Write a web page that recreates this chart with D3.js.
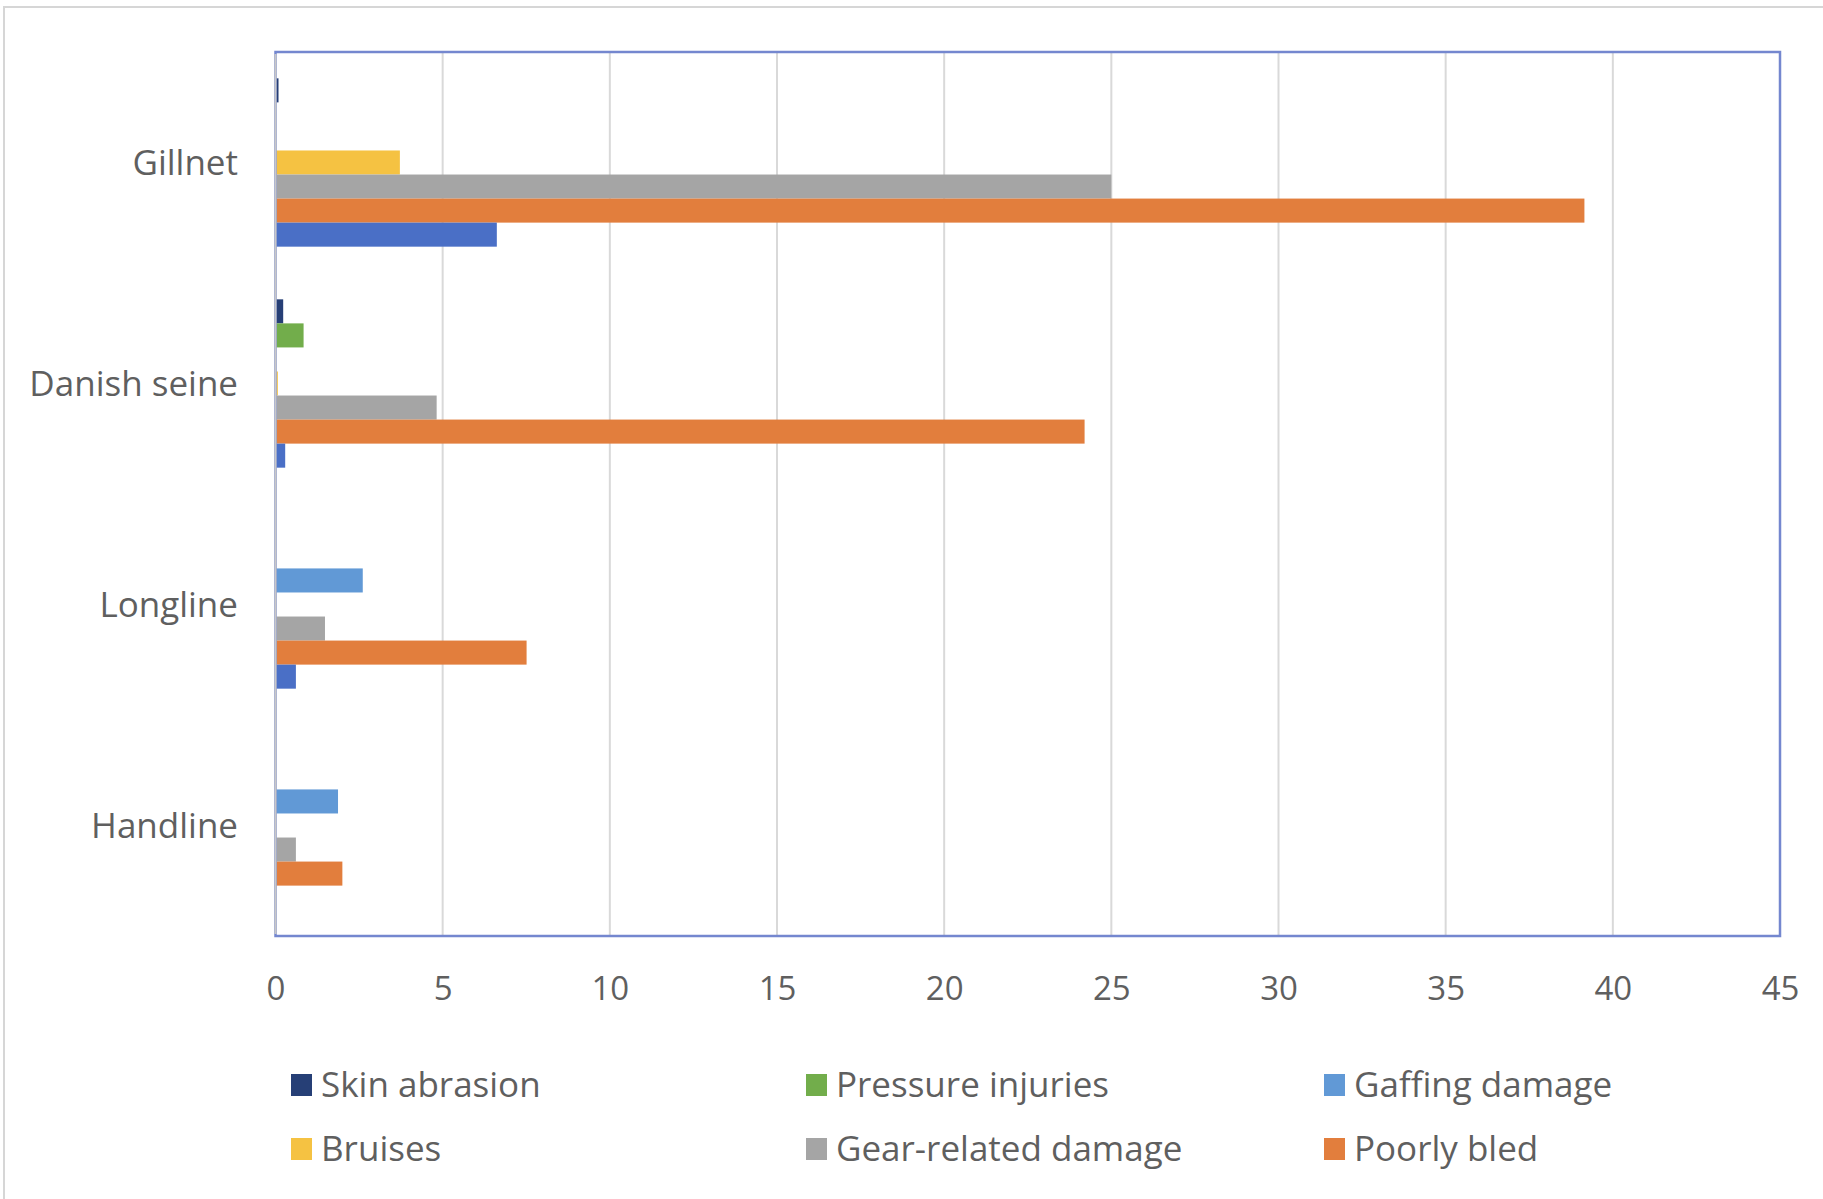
<!DOCTYPE html>
<html>
<head>
<meta charset="utf-8">
<script src="https://cdn.jsdelivr.net/npm/d3@7"></script>
<style>
  html, body { margin: 0; padding: 0; background: #fff; }
  svg { display: block; }
</style>
</head>
<body>
<svg id="chart" width="1823" height="1199"></svg>
<script>
// ---- Data ----
const categories = ["Gillnet", "Danish seine", "Longline", "Handline"];
const seriesNames = ["Skin abrasion", "Pressure injuries", "Gaffing damage", "Bruises", "Gear-related damage", "Poorly bled", "Unlabelled series"];
const skinAbrasion     = [0.09, 0.23, 0, 0];
const pressureInjuries = [0, 0.84, 0, 0];
const gaffingDamage    = [0, 0, 2.61, 1.87];
const bruises          = [3.72, 0.07, 0, 0];
const gearRelated      = [25.0, 4.82, 1.48, 0.61];
const poorlyBled       = [39.15, 24.2, 7.51, 2.0];
const unlabelled       = [6.62, 0.29, 0.61, 0];
const seriesValues = [skinAbrasion, pressureInjuries, gaffingDamage, bruises, gearRelated, poorlyBled, unlabelled];
const seriesColors = ["#263F76", "#72AD4B", "#6199D6", "#F5C242", "#A5A5A5", "#E27E3D", "#4A6FC6"];
const legendNames = ["Skin abrasion", "Pressure injuries", "Gaffing damage", "Bruises", "Gear-related damage", "Poorly bled"];
const xTicks = [0, 5, 10, 15, 20, 25, 30, 35, 40, 45];

// ---- Layout ----
const svg = d3.select("#chart");
const plot = { left: 275.5, right: 1780, top: 52, bottom: 936 };
const textColor = "#5f5f5f";
const font = "'Open Sans', 'Noto Sans', sans-serif";

// outer chart frame
svg.append("rect")
  .attr("x", 4).attr("y", 7).attr("width", 1900).attr("height", 1300)
  .attr("fill", "#fff").attr("stroke", "#d6d6d6").attr("stroke-width", 2);

const x = d3.scaleLinear().domain([0, 45]).range([plot.left, plot.right]);
const y = d3.scaleBand().domain(categories).range([plot.top, plot.bottom]).padding(0);
const bw = y.bandwidth();
const barH = bw / (7 + 2.19);
const gapHalf = barH * 1.095;
const ys = d3.scaleBand().domain(seriesNames).range([gapHalf, bw - gapHalf]).padding(0);

// gridlines
svg.append("g").selectAll("line").data(xTicks.slice(1)).join("line")
  .attr("x1", d => x(d)).attr("x2", d => x(d))
  .attr("y1", plot.top).attr("y2", plot.bottom)
  .attr("stroke", "#d9d9d9").attr("stroke-width", 2);

// bars
const rows = [];
categories.forEach((c, ci) => {
  seriesNames.forEach((s, si) => {
    rows.push({ cat: c, series: s, value: seriesValues[si][ci], color: seriesColors[si] });
  });
});
svg.append("g").selectAll("rect").data(rows.filter(d => d.value > 0)).join("rect")
  .attr("x", x(0))
  .attr("y", d => y(d.cat) + ys(d.series))
  .attr("width", d => x(d.value) - x(0))
  .attr("height", ys.bandwidth())
  .attr("fill", d => d.color);

// plot border
svg.append("rect")
  .attr("x", plot.left).attr("y", plot.top)
  .attr("width", plot.right - plot.left).attr("height", plot.bottom - plot.top)
  .attr("fill", "none").attr("stroke", "#7487CF").attr("stroke-width", 2.5);

// left category axis line
svg.append("line")
  .attr("x1", x(0)).attr("x2", x(0)).attr("y1", plot.top + 2).attr("y2", plot.bottom - 2)
  .attr("stroke", "#c8c8c8").attr("stroke-width", 2);

// x axis labels
const xAxis = d3.axisBottom(x).tickValues(xTicks).tickSize(0).tickPadding(0);
const xg = svg.append("g").attr("transform", `translate(0, 988)`).call(xAxis);
xg.select(".domain").remove();
xg.selectAll("text")
  .attr("dy", "0.35em")
  .attr("fill", textColor)
  .style("font-family", font).style("font-size", "33px");

// y axis labels
const yAxis = d3.axisLeft(y).tickSize(0).tickPadding(0);
const yg = svg.append("g").attr("transform", `translate(238, 0)`).call(yAxis);
yg.select(".domain").remove();
yg.selectAll("text")
  .attr("dy", "0.35em")
  .attr("fill", textColor)
  .style("font-family", font).style("font-size", "35px");

// legend
const legCols = [291, 806, 1324];
const legRows = [1085, 1149];
const leg = svg.append("g").selectAll("g").data(legendNames).join("g")
  .attr("transform", (d, i) => `translate(${legCols[i % 3]}, ${legRows[Math.floor(i / 3)]})`);
leg.append("rect")
  .attr("x", 0).attr("y", -11).attr("width", 21).attr("height", 22)
  .attr("fill", d => seriesColors[seriesNames.indexOf(d)]);
leg.append("text")
  .attr("x", 30).attr("y", 0).attr("dy", "0.35em")
  .attr("fill", textColor)
  .style("font-family", font).style("font-size", "35px")
  .text(d => d);
</script>
</body>
</html>
